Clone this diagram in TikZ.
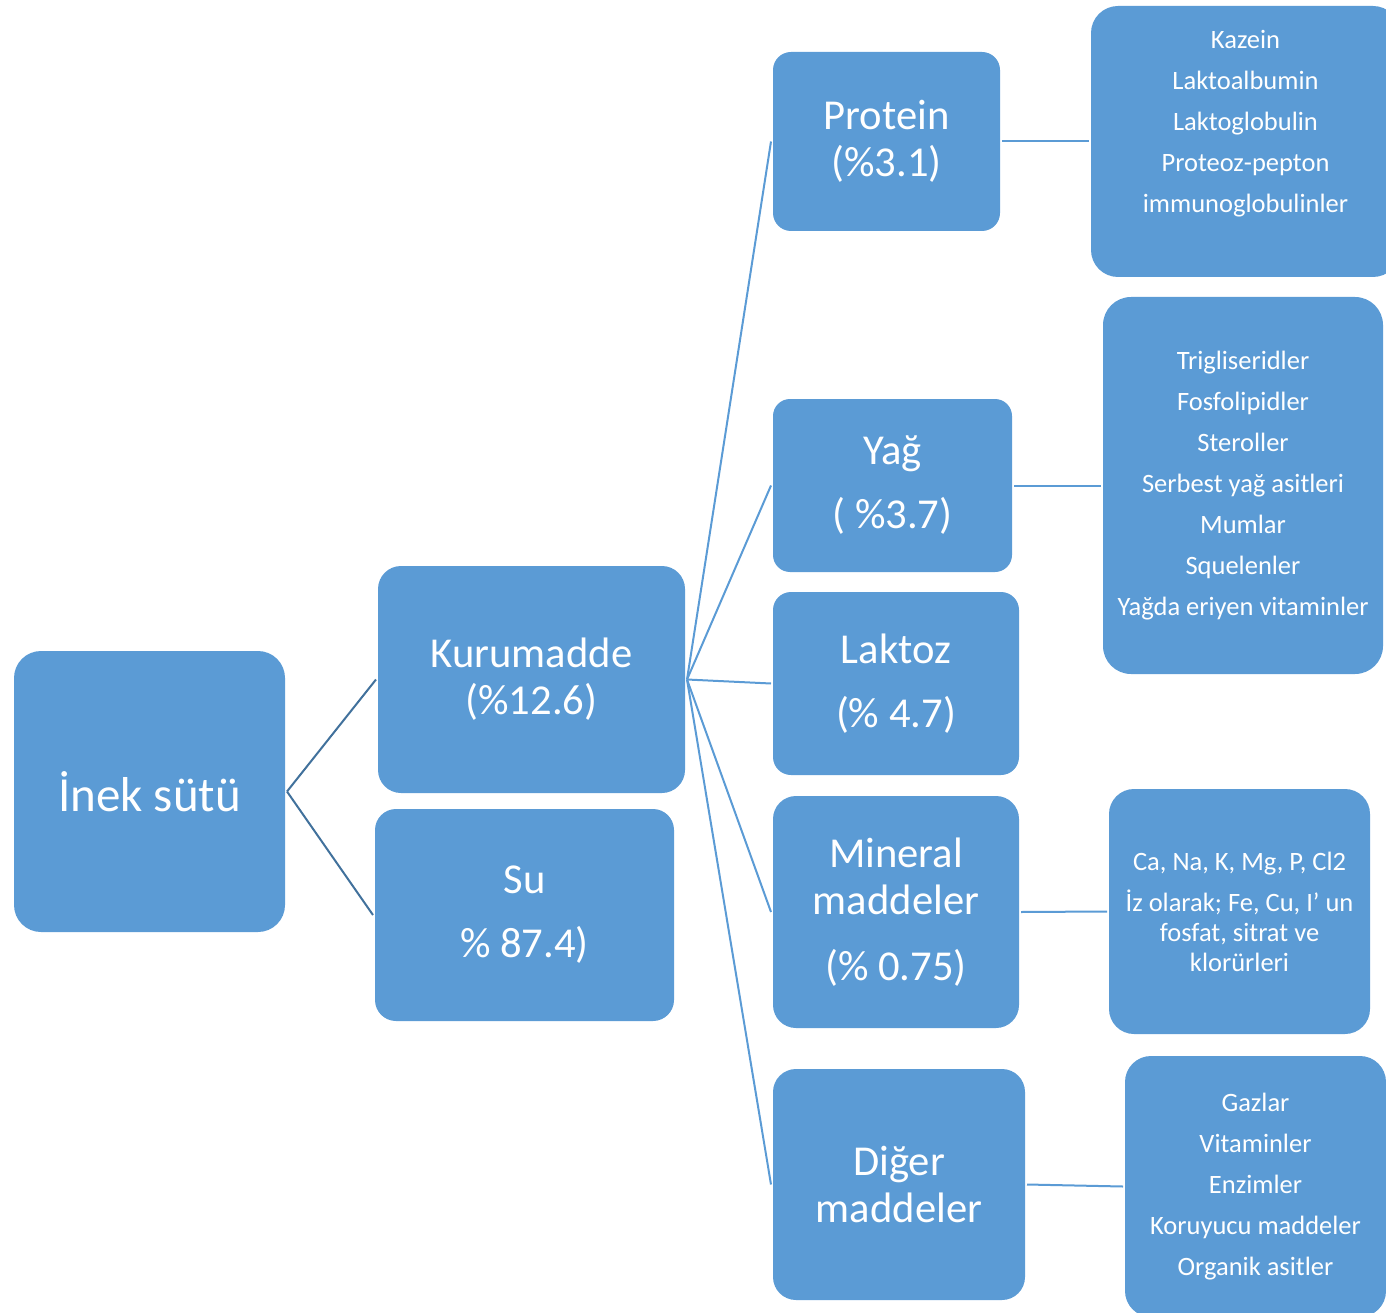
\documentclass[tikz,border=0pt]{standalone}
\usepackage{fontspec}
\setmainfont{Carlito}
\definecolor{boxblue}{HTML}{5B9BD5}
\definecolor{linkdark}{HTML}{41719C}
\begin{document}
\begin{tikzpicture}[x=1pt,y=-1pt,
  bx/.style args={#1/#2/#3}{fill=boxblue, draw=none, rounded corners=#3,
    minimum width=#1, minimum height=#2, inner sep=0pt, text width=#1,
    align=flush center, text=white, outer sep=2pt},
  huge/.style={font=\fontsize{49}{55}\selectfont},
  big/.style={font=\fontsize{42.6}{47}\selectfont},
  small/.style={font=\fontsize{26.5}{30}\selectfont},
  lnk/.style={draw=boxblue, line width=2pt},
  lnkdark/.style={draw=linkdark, line width=2pt}]
\useasboundingbox (0,0) rectangle (1386,1313);
\clip (0,0) rectangle (1386,1313);

\node[bx={271pt/281pt/27pt}, huge] (inek) at (149.5,791.5) {İnek sütü};
\node[bx={307pt/227pt/23pt}, big] (kuru) at (531.5,679.5) {Kurumadde\\(\%12.6)};
\node[bx={299pt/212pt/21pt}, big] (su) at (524.5,915) {Su\\[17pt]\% 87.4)};

\node[bx={227pt/179pt/18pt}, big] (protein) at (886.5,141.5) {Protein\\(\%3.1)};
\node[bx={239pt/173pt/17pt}, big] (yag) at (892.5,485.5) {Yağ\\[17pt]( \%3.7)};
\node[bx={246pt/183pt/18pt}, big] (laktoz) at (896,683.5) {Laktoz\\[17pt](\% 4.7)};
\node[bx={246pt/232pt/23pt}, big] (mineral) at (896,912) {Mineral\\maddeler\\[19pt](\% 0.75)};
\node[bx={252pt/231pt/23pt}, big] (diger) at (899,1184.5) {Diğer\\maddeler};

\node[bx={309pt/271pt/27pt}, small] (plist) at (1245.5,141.5)
  {Kazein\\[11pt]Laktoalbumin\\[11pt]Laktoglobulin\\[11pt]Proteoz-pepton\\[11pt]immunoglobulinler\\[11pt]\mbox{}};
\node[bx={280pt/377pt/28pt}, small] (ylist) at (1243,485.5)
  {Trigliseridler\\[11pt]Fosfolipidler\\[11pt]Steroller\\[11pt]Serbest yağ asitleri\\[11pt]Mumlar\\[11pt]Squelenler\\[11pt]Yağda eriyen vitaminler};
\node[bx={261pt/245pt/25pt}, small] (mlist) at (1239.5,911.5)
  {Ca, Na, K, Mg, P, Cl2\\[11pt]İz olarak; Fe, Cu, I’ un\\fosfat, sitrat ve\\klorürleri};
\node[bx={261pt/261pt/26pt}, small] (dlist) at (1255.5,1186.5)
  {Gazlar\\[11pt]Vitaminler\\[11pt]Enzimler\\[11pt]Koruyucu maddeler\\[11pt]Organik asitler};

\draw[lnkdark] (inek.east) -- (kuru.west);
\draw[lnkdark] (inek.east) -- (su.west);
\draw[lnk] (kuru.east) -- (protein.west);
\draw[lnk] (kuru.east) -- (yag.west);
\draw[lnk] (kuru.east) -- (laktoz.west);
\draw[lnk] (kuru.east) -- (mineral.west);
\draw[lnk] (kuru.east) -- (diger.west);
\draw[lnk] (protein.east) -- (plist.west);
\draw[lnk] (yag.east) -- (ylist.west);
\draw[lnk] (mineral.east) -- (mlist.west);
\draw[lnk] (diger.east) -- (dlist.west);
\end{tikzpicture}
\end{document}
